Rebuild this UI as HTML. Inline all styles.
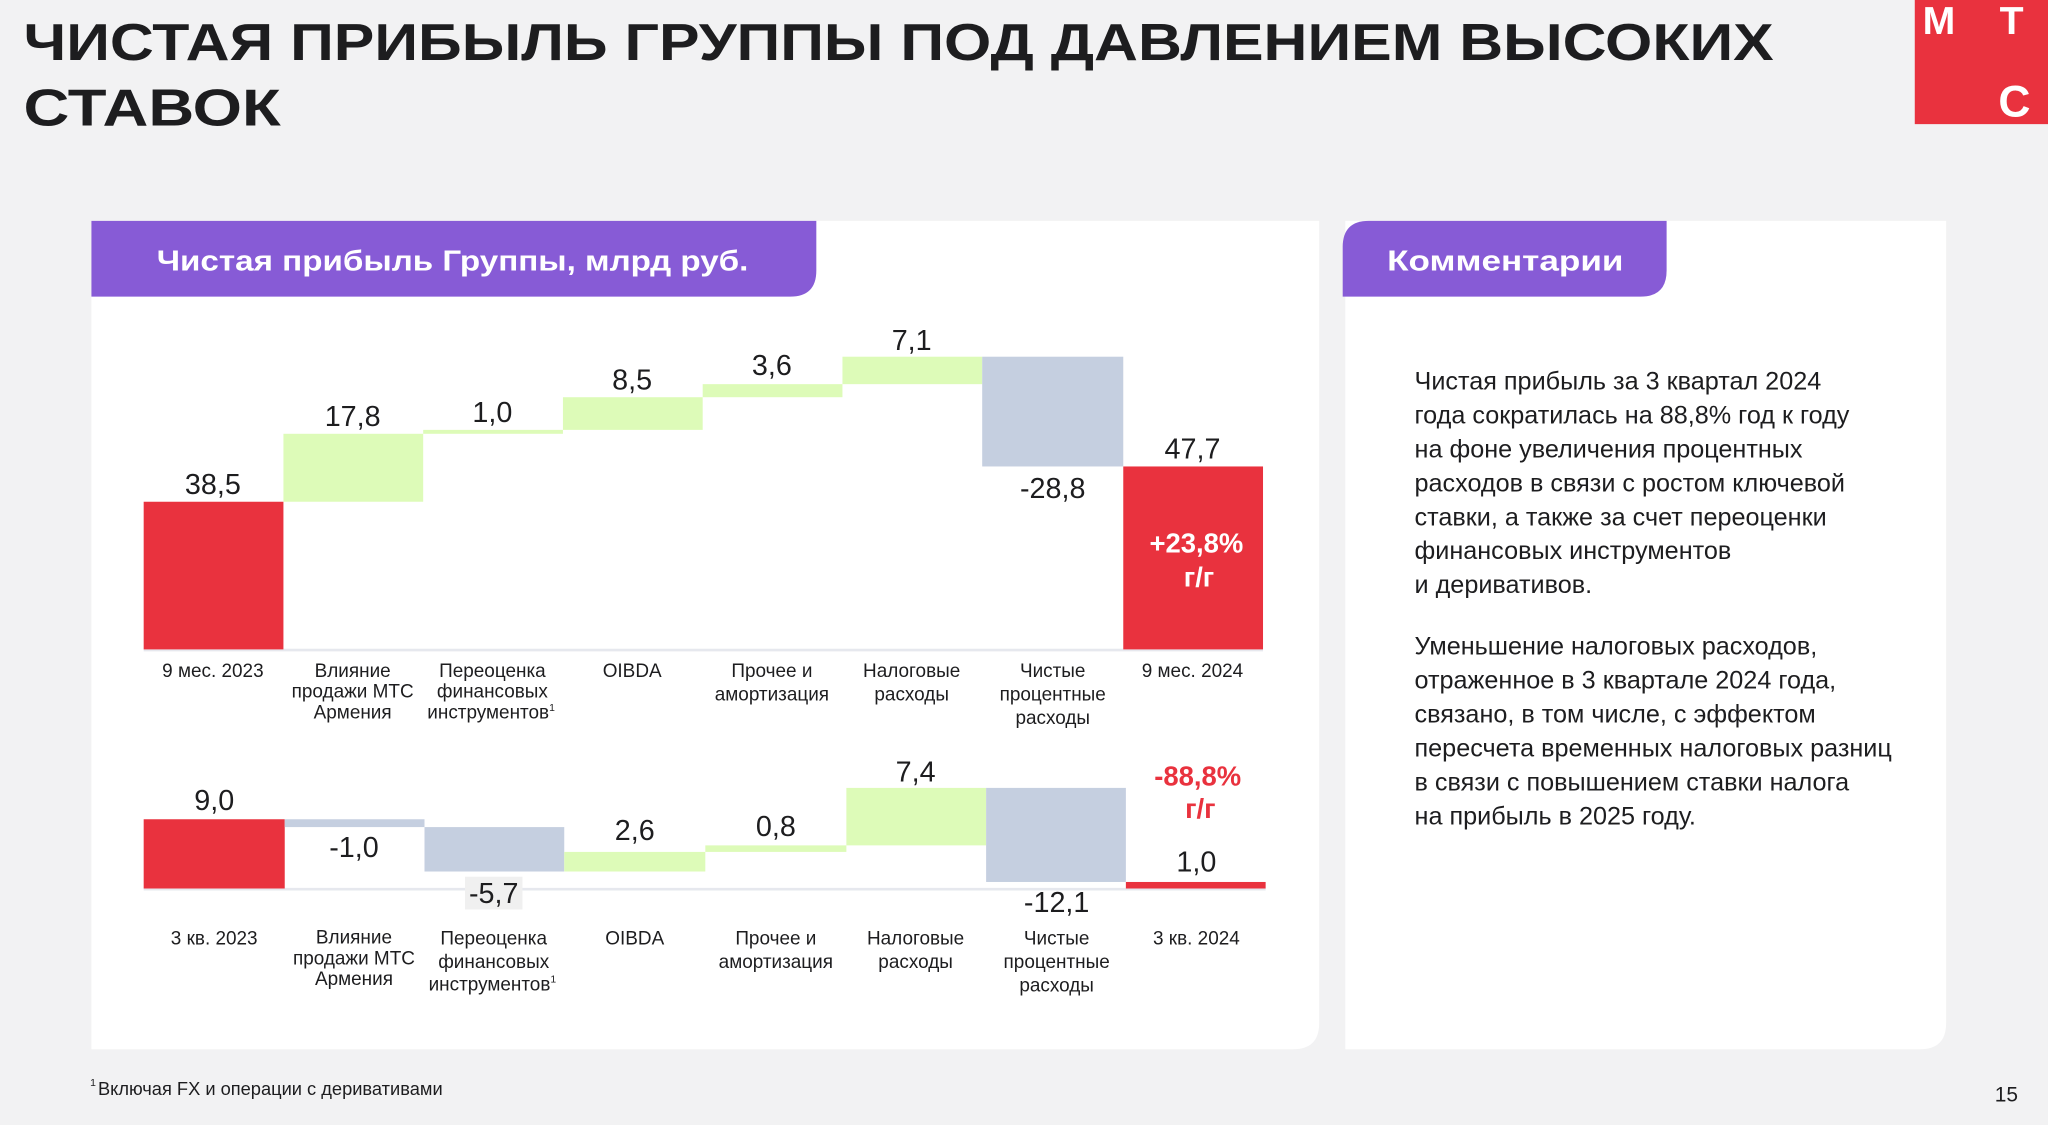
<!DOCTYPE html>
<html><head><meta charset="utf-8"><style>
html,body{margin:0;padding:0;background:#f2f2f3;}
svg{display:block;font-family:"Liberation Sans","DejaVu Sans",sans-serif;}
</style></head><body>
<svg width="2048" height="1125" viewBox="0 0 1568 861" preserveAspectRatio="none" xmlns="http://www.w3.org/2000/svg">
<rect width="1568" height="861" fill="#f2f2f3"/>
<text x="18" y="46" font-size="40" font-weight="bold" fill="#1d1d1f" textLength="1340" lengthAdjust="spacingAndGlyphs">ЧИСТАЯ ПРИБЫЛЬ ГРУППЫ ПОД ДАВЛЕНИЕМ ВЫСОКИХ</text>
<text x="18" y="96" font-size="40" font-weight="bold" fill="#1d1d1f" textLength="197" lengthAdjust="spacingAndGlyphs">СТАВОК</text>
<rect x="1466" y="0" width="102" height="95" fill="#e9323e"/>
<text x="1472" y="26" font-size="30" font-weight="bold" fill="#fff">М</text>
<text x="1531" y="26" font-size="30" font-weight="bold" fill="#fff">Т</text>
<text x="1530" y="89" font-size="34" font-weight="bold" fill="#fff">С</text>
<path d="M70 169 H1010 V783 Q1010 803 990 803 H70 Z" fill="#fff"/>
<path d="M70 169 H625 V207 Q625 227 605 227 H70 Z" fill="#875bd6"/>
<text x="120" y="207" font-size="22" font-weight="bold" fill="#fff" textLength="453" lengthAdjust="spacingAndGlyphs">Чистая прибыль Группы, млрд руб.</text>
<path d="M1030 169 H1490 V783 Q1490 803 1470 803 H1030 Z" fill="#fff"/>
<path d="M1028 189 Q1028 169 1048 169 H1276 V207 Q1276 227 1256 227 H1028 Z" fill="#875bd6"/>
<text x="1062" y="207" font-size="22" font-weight="bold" fill="#fff" textLength="181" lengthAdjust="spacingAndGlyphs">Комментарии</text>
<g font-size="19.3" fill="#1d1d1f">
<text x="1083" y="298">Чистая прибыль за 3 квартал 2024</text>
<text x="1083" y="324">года сократилась на 88,8% год к году</text>
<text x="1083" y="350">на фоне увеличения процентных</text>
<text x="1083" y="376">расходов в связи с ростом ключевой</text>
<text x="1083" y="402">ставки, а также за счет переоценки</text>
<text x="1083" y="428">финансовых инструментов</text>
<text x="1083" y="454">и деривативов.</text>
<text x="1083" y="501">Уменьшение налоговых расходов,</text>
<text x="1083" y="527">отраженное в 3 квартале 2024 года,</text>
<text x="1083" y="553">связано, в том числе, с эффектом</text>
<text x="1083" y="579">пересчета временных налоговых разниц</text>
<text x="1083" y="605">в связи с повышением ставки налога</text>
<text x="1083" y="631">на прибыль в 2025 году.</text>
</g>
<line x1="110" y1="497.5" x2="967" y2="497.5" stroke="#e6e8ee" stroke-width="2"/>
<rect x="110" y="384" width="107" height="113" fill="#e9323e"/>
<rect x="217" y="332" width="107" height="52" fill="#ddfbb8"/>
<rect x="324" y="329" width="107" height="3" fill="#ddfbb8"/>
<rect x="431" y="304" width="107" height="25" fill="#ddfbb8"/>
<rect x="538" y="294" width="107" height="10" fill="#ddfbb8"/>
<rect x="645" y="273" width="107" height="21" fill="#ddfbb8"/>
<rect x="752" y="273" width="108" height="84" fill="#c5cfe0"/>
<rect x="860" y="357" width="107" height="140" fill="#e9323e"/>
<g font-size="22" fill="#1d1d1f" text-anchor="middle">
<text x="163" y="378">38,5</text>
<text x="270" y="326">17,8</text>
<text x="377" y="323">1,0</text>
<text x="484" y="298">8,5</text>
<text x="591" y="287">3,6</text>
<text x="698" y="268">7,1</text>
<text x="806" y="381">-28,8</text>
<text x="913" y="351">47,7</text>
</g>
<text x="916" y="423" font-size="21" font-weight="bold" fill="#fff" text-anchor="middle">+23,8%</text>
<text x="918" y="449" font-size="21" font-weight="bold" fill="#fff" text-anchor="middle">г/г</text>
<g font-size="14.5" fill="#1d1d1f" text-anchor="middle">
<text x="163" y="518">9 мес. 2023</text>
<text x="270" y="518">Влияние</text><text x="270" y="534">продажи МТС</text><text x="270" y="550">Армения</text>
<text x="377" y="518">Переоценка</text><text x="377" y="534">финансовых</text><text x="376" y="550">инструментов<tspan font-size="8" dy="-6">1</tspan></text>
<text x="484" y="518">OIBDA</text>
<text x="591" y="518">Прочее и</text><text x="591" y="536">амортизация</text>
<text x="698" y="518">Налоговые</text><text x="698" y="536">расходы</text>
<text x="806" y="518">Чистые</text><text x="806" y="536">процентные</text><text x="806" y="554">расходы</text>
<text x="913" y="518">9 мес. 2024</text>
</g>
<line x1="110" y1="680.5" x2="969" y2="680.5" stroke="#e6e8ee" stroke-width="2"/>
<rect x="110" y="627" width="108" height="53" fill="#e9323e"/>
<rect x="218" y="627" width="107" height="6" fill="#c5cfe0"/>
<rect x="325" y="633" width="107" height="34" fill="#c5cfe0"/>
<rect x="432" y="652" width="108" height="15" fill="#ddfbb8"/>
<rect x="540" y="647" width="108" height="5" fill="#ddfbb8"/>
<rect x="648" y="603" width="107" height="44" fill="#ddfbb8"/>
<rect x="755" y="603" width="107" height="72" fill="#c5cfe0"/>
<rect x="862" y="675" width="107" height="5" fill="#e9323e"/>
<rect x="356" y="671" width="44" height="25" fill="#f0f0f0"/>
<g font-size="22" fill="#1d1d1f" text-anchor="middle">
<text x="164" y="620">9,0</text>
<text x="271" y="656">-1,0</text>
<text x="378" y="691">-5,7</text>
<text x="486" y="643">2,6</text>
<text x="594" y="640">0,8</text>
<text x="701" y="598">7,4</text>
<text x="809" y="698">-12,1</text>
<text x="916" y="667">1,0</text>
</g>
<text x="917" y="601" font-size="21" font-weight="bold" fill="#e9323e" text-anchor="middle">-88,8%</text>
<text x="919" y="626" font-size="21" font-weight="bold" fill="#e9323e" text-anchor="middle">г/г</text>
<g font-size="14.5" fill="#1d1d1f" text-anchor="middle">
<text x="164" y="723">3 кв. 2023</text>
<text x="271" y="722">Влияние</text><text x="271" y="738">продажи МТС</text><text x="271" y="754">Армения</text>
<text x="378" y="723">Переоценка</text><text x="378" y="741">финансовых</text><text x="377" y="758">инструментов<tspan font-size="8" dy="-6">1</tspan></text>
<text x="486" y="723">OIBDA</text>
<text x="594" y="723">Прочее и</text><text x="594" y="741">амортизация</text>
<text x="701" y="723">Налоговые</text><text x="701" y="741">расходы</text>
<text x="809" y="723">Чистые</text><text x="809" y="741">процентные</text><text x="809" y="759">расходы</text>
<text x="916" y="723">3 кв. 2024</text>
</g>
<text x="69" y="831" font-size="8" fill="#1d1d1f">1</text>
<text x="75" y="838" font-size="14" fill="#1d1d1f">Включая FX и операции с деривативами</text>
<text x="1545" y="843" font-size="16" fill="#1d1d1f" text-anchor="end">15</text>
</svg>
</body></html>
